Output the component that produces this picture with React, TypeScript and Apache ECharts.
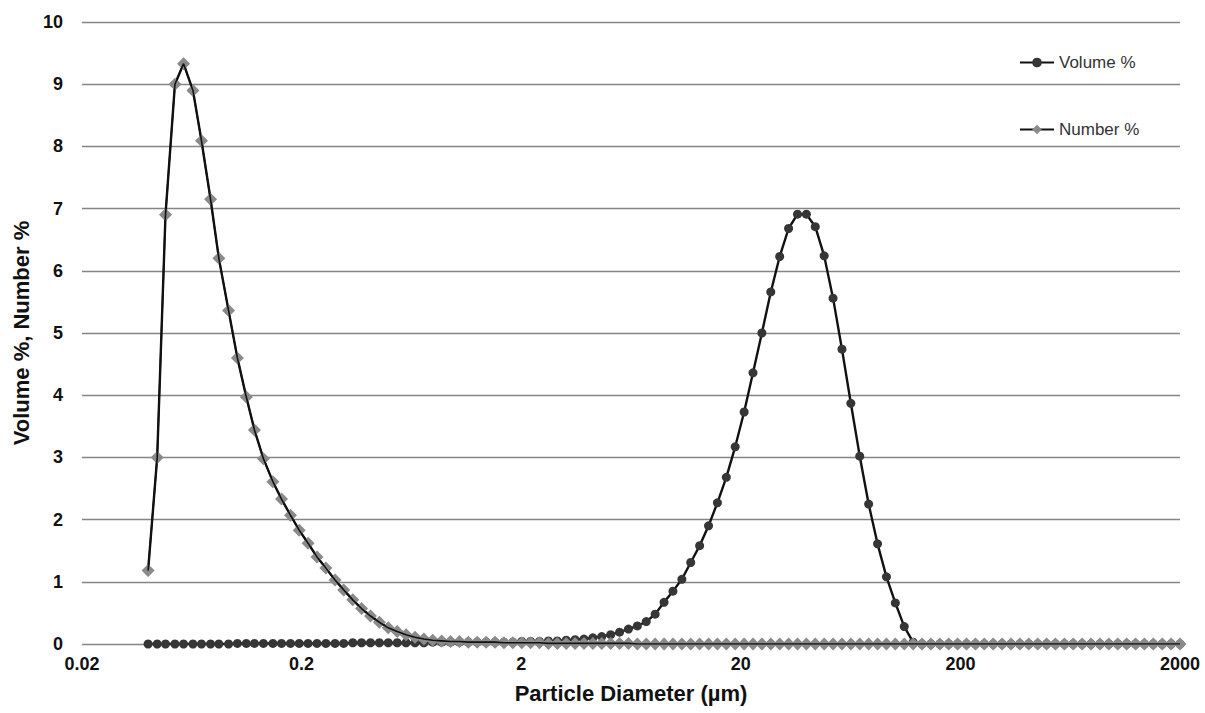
import React, { useEffect, useRef } from "react";
import * as echarts from "echarts";

// Channel diameters of the size analyser (µm)
const sizes: number[] = [
  0.04, 0.044, 0.048, 0.053, 0.058, 0.064, 0.07, 0.077, 0.084, 0.093,
  0.102, 0.112, 0.122, 0.134, 0.148, 0.162, 0.178, 0.195, 0.214, 0.235,
  0.258, 0.284, 0.311, 0.342, 0.375, 0.412, 0.452, 0.496, 0.545, 0.598,
  0.657, 0.721, 0.791, 0.869, 0.953, 1.047, 1.149, 1.261, 1.385, 1.52,
  1.669, 1.832, 2.011, 2.208, 2.423, 2.66, 2.92, 3.206, 3.519, 3.863,
  4.24, 4.655, 5.11, 5.61, 6.158, 6.76, 7.421, 8.147, 8.943, 9.817,
  10.78, 11.83, 12.99, 14.26, 15.65, 17.18, 18.86, 20.71, 22.73, 24.95,
  27.39, 30.07, 33.01, 36.24, 39.78, 43.67, 47.94, 52.62, 57.77, 63.41,
  69.61, 76.42, 83.89, 92.09, 101.1, 111.0, 121.8, 133.7, 146.8, 161.2,
  176.9, 194.2, 213.2, 234.1, 256.9, 282.1, 309.6, 339.9, 373.1, 409.6,
  449.7, 493.6, 541.9, 594.9, 653.0, 716.9, 786.9, 863.9, 948.3, 1041,
  1143, 1255, 1377, 1512, 1660, 1822, 2000,
];

// Volume % per channel
const volumePct: number[] = [
  0, 0, 0, 0, 0, 0, 0, 0, 0, 0,
  0.01, 0.01, 0.01, 0.01, 0.01, 0.01, 0.01, 0.01, 0.01, 0.01,
  0.01, 0.01, 0.01, 0.02, 0.02, 0.02, 0.02, 0.02, 0.02, 0.02,
  0.02, 0.02, 0.03, 0.03, 0.03, 0.03, 0.03, 0.03, 0.03, 0.03,
  0.03, 0.03, 0.04, 0.04, 0.04, 0.05, 0.05, 0.06, 0.07, 0.08,
  0.1, 0.12, 0.15, 0.19, 0.24, 0.29, 0.36, 0.48, 0.67, 0.85,
  1.04, 1.31, 1.58, 1.9, 2.27, 2.68, 3.17, 3.73, 4.36, 5.0,
  5.66, 6.23, 6.68, 6.91, 6.91, 6.71, 6.24, 5.56, 4.74, 3.87,
  3.02, 2.25, 1.61, 1.08, 0.66, 0.28, 0.03, 0, 0, 0,
  0, 0, 0, 0, 0, 0, 0, 0, 0, 0,
  0, 0, 0, 0, 0, 0, 0, 0, 0, 0,
  0, 0, 0, 0, 0, 0, 0,
];

// Number % per channel
const numberPct: number[] = [
  1.18, 3.0, 6.9, 9.0, 9.33, 8.9, 8.09, 7.15, 6.2, 5.36,
  4.6, 3.97, 3.44, 2.98, 2.61, 2.33, 2.07, 1.83, 1.62, 1.4,
  1.22, 1.03, 0.87, 0.71, 0.57, 0.45, 0.35, 0.26, 0.2, 0.15,
  0.11, 0.08, 0.06, 0.05, 0.04, 0.04, 0.03, 0.03, 0.03, 0.03,
  0.02, 0.02, 0.02, 0.02, 0.02, 0.01, 0.01, 0.01, 0.01, 0.01,
  0.01, 0.01, 0.01, 0.01, 0.01, 0, 0, 0, 0, 0,
  0, 0, 0, 0, 0, 0, 0, 0, 0, 0,
  0, 0, 0, 0, 0, 0, 0, 0, 0, 0,
  0, 0, 0, 0, 0, 0, 0, 0, 0, 0,
  0, 0, 0, 0, 0, 0, 0, 0, 0, 0,
  0, 0, 0, 0, 0, 0, 0, 0, 0, 0,
  0, 0, 0, 0, 0, 0, 0,
];

const xTickValues: number[] = [0.02, 0.2, 2, 20, 200, 2000];

const FONT = "'Liberation Sans', Arial, Helvetica, sans-serif";

export default function App() {
  const ref = useRef<HTMLDivElement>(null);

  useEffect(() => {
    if (!ref.current) return;
    const chart = echarts.init(ref.current, undefined, { renderer: "svg" });

    const volData = sizes.map((d, i) => [d, volumePct[i]]);
    const numData = sizes.map((d, i) => [d, numberPct[i]]);

    chart.setOption({
      animation: false,
      backgroundColor: "#ffffff",
      textStyle: { fontFamily: FONT },
      grid: { left: 82, right: 25, top: 22, bottom: 69 },
      legend: {
        data: ["Volume %", "Number %"],
        orient: "vertical",
        left: 1014,
        top: 49,
        itemGap: 50,
        itemWidth: 34,
        itemHeight: 12,
        textStyle: { fontFamily: FONT, fontSize: 17, color: "#333" },
      },
      xAxis: {
        type: "log",
        logBase: 10,
        min: 0.02,
        max: 2000,
        axisLine: { show: false },
        axisTick: { show: false },
        splitLine: { show: false },
        axisLabel: {
          customValues: xTickValues,
          formatter: (v: number) => String(+Number(v).toPrecision(3)),
          fontFamily: FONT,
          fontWeight: "bold",
          fontSize: 18,
          color: "#111",
          margin: 11,
        },
        name: "Particle Diameter (µm)",
        nameLocation: "middle",
        nameGap: 38,
        nameTextStyle: {
          fontFamily: FONT,
          fontWeight: "bold",
          fontSize: 22,
          color: "#111",
        },
      },
      yAxis: {
        type: "value",
        min: 0,
        max: 10,
        interval: 1,
        axisLine: { show: false },
        axisTick: { show: false },
        splitLine: { lineStyle: { color: "#858585", width: 1.4 } },
        axisLabel: {
          fontFamily: FONT,
          fontWeight: "bold",
          fontSize: 18,
          color: "#111",
          margin: 19,
        },
        name: "Volume %, Number %",
        nameLocation: "middle",
        nameGap: 50,
        nameRotate: 90,
        nameTextStyle: {
          fontFamily: FONT,
          fontWeight: "bold",
          fontSize: 22,
          color: "#111",
        },
      },
      series: [
        {
          name: "Volume %",
          type: "line",
          data: volData,
          symbol: "circle",
          symbolSize: 9,
          itemStyle: { color: "#363636" },
          lineStyle: { color: "#111", width: 2.4 },
          z: 2,
        },
        {
          name: "Number %",
          type: "line",
          data: numData,
          symbol: "diamond",
          symbolSize: 13,
          itemStyle: { color: "#8a8a8a" },
          lineStyle: { color: "#111", width: 2.4 },
          z: 3,
        },
        {
          // thin trace drawn over the diamond markers
          type: "line",
          data: numData,
          showSymbol: false,
          silent: true,
          lineStyle: { color: "#111", width: 1.6 },
          z: 4,
        },
      ],
    });

    return () => chart.dispose();
  }, []);

  return (
    <div
      ref={ref}
      style={{ position: "fixed", left: 0, top: 0, width: 1205, height: 713 }}
    />
  );
}
